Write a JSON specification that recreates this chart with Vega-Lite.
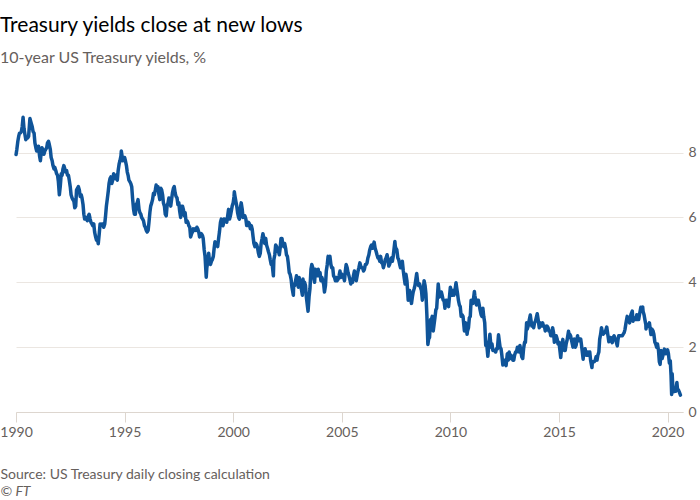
{
"$schema": "https://vega.github.io/schema/vega-lite/v6.json",
"width": 667, "height": 308,
"autosize": {"type": "none"},
"padding": {"left": 16, "top": 104, "right": 17, "bottom": 88},
"background": "white",
"title": {"text": "Treasury yields close at new lows", "subtitle": "10-year US Treasury yields, %", "anchor": "start", "frame": "group", "dx": -16, "offset": 38, "font": "Lato", "fontSize": 21, "fontWeight": "normal", "color": "#000000", "subtitleFont": "Lato", "subtitleFontSize": 16, "subtitleColor": "#66605c", "subtitlePadding": 14},
"data": {"values": [
{"d":"1990-01-02","v":7.94},{"d":"1990-01-15","v":8.1},{"d":"1990-02-01","v":8.35},{"d":"1990-02-15","v":8.5},{"d":"1990-03-01","v":8.6},{"d":"1990-03-15","v":8.6},{"d":"1990-04-01","v":8.65},{"d":"1990-04-15","v":8.8},{"d":"1990-04-30","v":9.09},{"d":"1990-05-15","v":8.75},{"d":"1990-06-01","v":8.55},{"d":"1990-06-15","v":8.4},{"d":"1990-07-01","v":8.45},{"d":"1990-07-15","v":8.45},{"d":"1990-08-01","v":8.5},{"d":"1990-08-15","v":8.85},{"d":"1990-08-23","v":9.05},{"d":"1990-09-15","v":8.9},{"d":"1990-10-01","v":8.8},{"d":"1990-10-15","v":8.65},{"d":"1990-11-01","v":8.6},{"d":"1990-11-15","v":8.3},{"d":"1990-12-01","v":8.15},{"d":"1990-12-15","v":8.05},
{"d":"1991-01-01","v":8.05},{"d":"1991-01-15","v":8.2},{"d":"1991-02-01","v":7.9},{"d":"1991-02-15","v":7.75},{"d":"1991-03-01","v":8.0},{"d":"1991-03-15","v":8.15},{"d":"1991-04-01","v":8.05},{"d":"1991-04-15","v":7.95},{"d":"1991-05-01","v":8.05},{"d":"1991-05-15","v":8.1},{"d":"1991-06-01","v":8.15},{"d":"1991-06-15","v":8.3},{"d":"1991-07-01","v":8.35},{"d":"1991-07-15","v":8.25},{"d":"1991-08-01","v":8.1},{"d":"1991-08-15","v":7.85},{"d":"1991-09-01","v":7.75},{"d":"1991-09-15","v":7.6},{"d":"1991-10-01","v":7.5},{"d":"1991-10-15","v":7.55},{"d":"1991-11-01","v":7.45},{"d":"1991-11-15","v":7.35},{"d":"1991-12-01","v":7.3},{"d":"1991-12-15","v":7.1},{"d":"1991-12-31","v":6.7},
{"d":"1992-01-15","v":6.95},{"d":"1992-02-01","v":7.35},{"d":"1992-02-15","v":7.3},{"d":"1992-03-01","v":7.5},{"d":"1992-03-15","v":7.6},{"d":"1992-04-01","v":7.5},{"d":"1992-04-15","v":7.4},{"d":"1992-05-01","v":7.45},{"d":"1992-05-15","v":7.3},{"d":"1992-06-01","v":7.3},{"d":"1992-06-15","v":7.15},{"d":"1992-07-01","v":6.95},{"d":"1992-07-15","v":6.7},{"d":"1992-08-01","v":6.6},{"d":"1992-08-15","v":6.55},{"d":"1992-09-01","v":6.5},{"d":"1992-09-15","v":6.3},{"d":"1992-10-01","v":6.35},{"d":"1992-10-15","v":6.85},{"d":"1992-11-01","v":6.9},{"d":"1992-11-15","v":6.95},{"d":"1992-12-01","v":6.85},{"d":"1992-12-15","v":6.65},
{"d":"1993-01-01","v":6.7},{"d":"1993-01-15","v":6.6},{"d":"1993-02-01","v":6.4},{"d":"1993-02-15","v":6.1},{"d":"1993-03-01","v":5.95},{"d":"1993-03-15","v":6.0},{"d":"1993-04-01","v":5.95},{"d":"1993-04-15","v":5.9},{"d":"1993-05-01","v":6.05},{"d":"1993-05-15","v":6.1},{"d":"1993-06-01","v":5.95},{"d":"1993-06-15","v":5.85},{"d":"1993-07-01","v":5.8},{"d":"1993-07-15","v":5.75},{"d":"1993-08-01","v":5.8},{"d":"1993-08-15","v":5.55},{"d":"1993-09-01","v":5.4},{"d":"1993-09-15","v":5.3},{"d":"1993-10-01","v":5.35},{"d":"1993-10-15","v":5.19},{"d":"1993-11-01","v":5.5},{"d":"1993-11-15","v":5.8},{"d":"1993-12-01","v":5.75},{"d":"1993-12-15","v":5.8},
{"d":"1994-01-01","v":5.8},{"d":"1994-01-15","v":5.7},{"d":"1994-02-01","v":5.8},{"d":"1994-02-15","v":6.05},{"d":"1994-03-01","v":6.35},{"d":"1994-03-15","v":6.55},{"d":"1994-04-01","v":6.8},{"d":"1994-04-15","v":7.05},{"d":"1994-05-01","v":7.2},{"d":"1994-05-15","v":7.25},{"d":"1994-06-01","v":7.05},{"d":"1994-06-15","v":7.15},{"d":"1994-07-01","v":7.35},{"d":"1994-07-15","v":7.25},{"d":"1994-08-01","v":7.2},{"d":"1994-08-15","v":7.3},{"d":"1994-09-01","v":7.15},{"d":"1994-09-15","v":7.45},{"d":"1994-10-01","v":7.65},{"d":"1994-10-15","v":7.75},{"d":"1994-11-01","v":7.9},{"d":"1994-11-07","v":8.05},{"d":"1994-11-15","v":7.95},{"d":"1994-12-01","v":7.75},{"d":"1994-12-15","v":7.85},
{"d":"1995-01-01","v":7.85},{"d":"1995-01-15","v":7.75},{"d":"1995-02-01","v":7.6},{"d":"1995-02-15","v":7.4},{"d":"1995-03-01","v":7.3},{"d":"1995-03-15","v":7.15},{"d":"1995-04-01","v":7.1},{"d":"1995-04-15","v":7.05},{"d":"1995-05-01","v":6.95},{"d":"1995-05-15","v":6.6},{"d":"1995-06-01","v":6.25},{"d":"1995-06-15","v":6.1},{"d":"1995-07-01","v":6.1},{"d":"1995-07-15","v":6.4},{"d":"1995-08-01","v":6.45},{"d":"1995-08-15","v":6.55},{"d":"1995-09-01","v":6.25},{"d":"1995-09-15","v":6.15},{"d":"1995-10-01","v":6.1},{"d":"1995-10-15","v":6.0},{"d":"1995-11-01","v":5.95},{"d":"1995-11-15","v":5.9},{"d":"1995-12-01","v":5.75},{"d":"1995-12-15","v":5.7},
{"d":"1996-01-01","v":5.6},{"d":"1996-01-15","v":5.55},{"d":"1996-02-01","v":5.6},{"d":"1996-02-15","v":5.85},{"d":"1996-03-01","v":6.15},{"d":"1996-03-15","v":6.35},{"d":"1996-04-01","v":6.45},{"d":"1996-04-15","v":6.55},{"d":"1996-05-01","v":6.75},{"d":"1996-05-15","v":6.7},{"d":"1996-06-01","v":6.85},{"d":"1996-06-15","v":7.0},{"d":"1996-07-01","v":6.85},{"d":"1996-07-15","v":6.95},{"d":"1996-08-01","v":6.7},{"d":"1996-08-15","v":6.55},{"d":"1996-09-01","v":6.9},{"d":"1996-09-15","v":6.85},{"d":"1996-10-01","v":6.7},{"d":"1996-10-15","v":6.45},{"d":"1996-11-01","v":6.35},{"d":"1996-11-15","v":6.1},{"d":"1996-12-01","v":6.05},{"d":"1996-12-15","v":6.35},
{"d":"1997-01-01","v":6.45},{"d":"1997-01-15","v":6.6},{"d":"1997-02-01","v":6.55},{"d":"1997-02-15","v":6.35},{"d":"1997-03-01","v":6.55},{"d":"1997-03-15","v":6.75},{"d":"1997-04-01","v":6.9},{"d":"1997-04-15","v":6.95},{"d":"1997-05-01","v":6.75},{"d":"1997-05-15","v":6.65},{"d":"1997-06-01","v":6.6},{"d":"1997-06-15","v":6.4},{"d":"1997-07-01","v":6.45},{"d":"1997-07-15","v":6.2},{"d":"1997-08-01","v":6.0},{"d":"1997-08-15","v":6.35},{"d":"1997-09-01","v":6.35},{"d":"1997-09-15","v":6.25},{"d":"1997-10-01","v":6.05},{"d":"1997-10-15","v":6.15},{"d":"1997-11-01","v":5.85},{"d":"1997-11-15","v":5.9},{"d":"1997-12-01","v":5.85},{"d":"1997-12-15","v":5.75},
{"d":"1998-01-01","v":5.7},{"d":"1998-01-15","v":5.4},{"d":"1998-02-01","v":5.5},{"d":"1998-02-15","v":5.55},{"d":"1998-03-01","v":5.65},{"d":"1998-03-15","v":5.6},{"d":"1998-04-01","v":5.65},{"d":"1998-04-15","v":5.6},{"d":"1998-05-01","v":5.7},{"d":"1998-05-15","v":5.65},{"d":"1998-06-01","v":5.55},{"d":"1998-06-15","v":5.4},{"d":"1998-07-01","v":5.45},{"d":"1998-07-15","v":5.5},{"d":"1998-08-01","v":5.45},{"d":"1998-08-15","v":5.35},{"d":"1998-09-01","v":5.0},{"d":"1998-09-15","v":4.8},{"d":"1998-10-05","v":4.16},{"d":"1998-10-15","v":4.45},{"d":"1998-11-01","v":4.65},{"d":"1998-11-15","v":4.9},{"d":"1998-12-01","v":4.6},{"d":"1998-12-15","v":4.55},
{"d":"1999-01-01","v":4.65},{"d":"1999-01-15","v":4.7},{"d":"1999-02-01","v":4.8},{"d":"1999-02-15","v":5.05},{"d":"1999-03-01","v":5.25},{"d":"1999-03-15","v":5.15},{"d":"1999-04-01","v":5.2},{"d":"1999-04-15","v":5.1},{"d":"1999-05-01","v":5.35},{"d":"1999-05-15","v":5.55},{"d":"1999-06-01","v":5.85},{"d":"1999-06-15","v":5.95},{"d":"1999-07-01","v":5.8},{"d":"1999-07-15","v":5.75},{"d":"1999-08-01","v":5.95},{"d":"1999-08-15","v":5.9},{"d":"1999-09-01","v":5.95},{"d":"1999-09-15","v":5.85},{"d":"1999-10-01","v":6.05},{"d":"1999-10-15","v":6.25},{"d":"1999-11-01","v":5.95},{"d":"1999-11-15","v":6.05},{"d":"1999-12-01","v":6.2},{"d":"1999-12-15","v":6.35},
{"d":"2000-01-01","v":6.45},{"d":"2000-01-15","v":6.65},{"d":"2000-01-20","v":6.79},{"d":"2000-02-01","v":6.65},{"d":"2000-02-15","v":6.5},{"d":"2000-03-01","v":6.35},{"d":"2000-03-15","v":6.15},{"d":"2000-04-01","v":6.0},{"d":"2000-04-15","v":5.95},{"d":"2000-05-01","v":6.3},{"d":"2000-05-15","v":6.45},{"d":"2000-06-01","v":6.25},{"d":"2000-06-15","v":6.0},{"d":"2000-07-01","v":6.05},{"d":"2000-07-15","v":6.05},{"d":"2000-08-01","v":5.95},{"d":"2000-08-15","v":5.75},{"d":"2000-09-01","v":5.75},{"d":"2000-09-15","v":5.85},{"d":"2000-10-01","v":5.8},{"d":"2000-10-15","v":5.65},{"d":"2000-11-01","v":5.75},{"d":"2000-11-15","v":5.65},{"d":"2000-12-01","v":5.4},{"d":"2000-12-15","v":5.2},
{"d":"2001-01-01","v":5.1},{"d":"2001-01-15","v":5.2},{"d":"2001-02-01","v":5.15},{"d":"2001-02-15","v":5.05},{"d":"2001-03-01","v":4.9},{"d":"2001-03-15","v":4.8},{"d":"2001-04-01","v":4.9},{"d":"2001-04-15","v":5.2},{"d":"2001-05-01","v":5.35},{"d":"2001-05-15","v":5.5},{"d":"2001-06-01","v":5.35},{"d":"2001-06-15","v":5.2},{"d":"2001-07-01","v":5.35},{"d":"2001-07-15","v":5.15},{"d":"2001-08-01","v":5.05},{"d":"2001-08-15","v":4.95},{"d":"2001-09-01","v":4.85},{"d":"2001-09-15","v":4.7},{"d":"2001-10-01","v":4.55},{"d":"2001-10-15","v":4.6},{"d":"2001-11-07","v":4.2},{"d":"2001-11-15","v":4.7},{"d":"2001-12-01","v":4.85},{"d":"2001-12-15","v":5.15},
{"d":"2002-01-01","v":5.1},{"d":"2002-01-15","v":4.95},{"d":"2002-02-01","v":4.95},{"d":"2002-02-15","v":4.85},{"d":"2002-03-01","v":5.05},{"d":"2002-03-15","v":5.35},{"d":"2002-04-01","v":5.35},{"d":"2002-04-15","v":5.15},{"d":"2002-05-01","v":5.1},{"d":"2002-05-15","v":5.2},{"d":"2002-06-01","v":5.05},{"d":"2002-06-15","v":4.85},{"d":"2002-07-01","v":4.8},{"d":"2002-07-15","v":4.6},{"d":"2002-08-01","v":4.3},{"d":"2002-08-15","v":4.25},{"d":"2002-09-01","v":4.1},{"d":"2002-09-15","v":3.85},{"d":"2002-10-09","v":3.6},{"d":"2002-10-15","v":3.95},{"d":"2002-11-01","v":3.9},{"d":"2002-11-15","v":4.05},{"d":"2002-12-01","v":4.2},{"d":"2002-12-15","v":4.05},
{"d":"2003-01-01","v":3.85},{"d":"2003-01-15","v":4.15},{"d":"2003-02-01","v":3.95},{"d":"2003-02-15","v":3.85},{"d":"2003-03-10","v":3.6},{"d":"2003-03-20","v":4.1},{"d":"2003-04-01","v":3.9},{"d":"2003-04-15","v":4.0},{"d":"2003-05-01","v":3.9},{"d":"2003-05-15","v":3.55},{"d":"2003-06-13","v":3.11},{"d":"2003-06-30","v":3.55},{"d":"2003-07-15","v":3.8},{"d":"2003-08-01","v":4.4},{"d":"2003-08-15","v":4.55},{"d":"2003-09-01","v":4.45},{"d":"2003-09-15","v":4.15},{"d":"2003-10-01","v":4.0},{"d":"2003-10-15","v":4.4},{"d":"2003-11-01","v":4.35},{"d":"2003-11-15","v":4.2},{"d":"2003-12-01","v":4.4},{"d":"2003-12-15","v":4.2},
{"d":"2004-01-01","v":4.3},{"d":"2004-01-15","v":4.05},{"d":"2004-02-01","v":4.15},{"d":"2004-02-15","v":4.05},{"d":"2004-03-01","v":3.95},{"d":"2004-03-15","v":3.7},{"d":"2004-04-01","v":3.9},{"d":"2004-04-15","v":4.35},{"d":"2004-05-01","v":4.55},{"d":"2004-05-15","v":4.8},{"d":"2004-06-01","v":4.75},{"d":"2004-06-15","v":4.8},{"d":"2004-07-01","v":4.55},{"d":"2004-07-15","v":4.45},{"d":"2004-08-01","v":4.45},{"d":"2004-08-15","v":4.2},{"d":"2004-09-01","v":4.15},{"d":"2004-09-15","v":4.05},{"d":"2004-10-01","v":4.15},{"d":"2004-10-15","v":4.05},{"d":"2004-11-01","v":4.1},{"d":"2004-11-15","v":4.2},{"d":"2004-12-01","v":4.35},{"d":"2004-12-15","v":4.15},
{"d":"2005-01-01","v":4.25},{"d":"2005-01-15","v":4.2},{"d":"2005-02-01","v":4.15},{"d":"2005-02-15","v":4.05},{"d":"2005-03-01","v":4.35},{"d":"2005-03-15","v":4.55},{"d":"2005-04-01","v":4.45},{"d":"2005-04-15","v":4.3},{"d":"2005-05-01","v":4.2},{"d":"2005-05-15","v":4.1},{"d":"2005-06-01","v":3.95},{"d":"2005-06-15","v":4.1},{"d":"2005-07-01","v":4.0},{"d":"2005-07-15","v":4.2},{"d":"2005-08-01","v":4.35},{"d":"2005-08-15","v":4.2},{"d":"2005-09-01","v":4.05},{"d":"2005-09-15","v":4.2},{"d":"2005-10-01","v":4.35},{"d":"2005-10-15","v":4.45},{"d":"2005-11-01","v":4.6},{"d":"2005-11-15","v":4.5},{"d":"2005-12-01","v":4.45},{"d":"2005-12-15","v":4.45},
{"d":"2006-01-01","v":4.35},{"d":"2006-01-15","v":4.4},{"d":"2006-02-01","v":4.55},{"d":"2006-02-15","v":4.55},{"d":"2006-03-01","v":4.6},{"d":"2006-03-15","v":4.75},{"d":"2006-04-01","v":4.85},{"d":"2006-04-15","v":5.0},{"d":"2006-05-01","v":5.1},{"d":"2006-05-15","v":5.15},{"d":"2006-06-01","v":5.05},{"d":"2006-06-28","v":5.24},{"d":"2006-07-15","v":5.05},{"d":"2006-08-01","v":4.95},{"d":"2006-08-15","v":4.85},{"d":"2006-09-01","v":4.75},{"d":"2006-09-15","v":4.75},{"d":"2006-10-01","v":4.65},{"d":"2006-10-15","v":4.8},{"d":"2006-11-01","v":4.6},{"d":"2006-11-15","v":4.6},{"d":"2006-12-01","v":4.45},{"d":"2006-12-15","v":4.55},
{"d":"2007-01-01","v":4.7},{"d":"2007-01-15","v":4.75},{"d":"2007-02-01","v":4.85},{"d":"2007-02-15","v":4.7},{"d":"2007-03-01","v":4.5},{"d":"2007-03-15","v":4.55},{"d":"2007-04-01","v":4.65},{"d":"2007-04-15","v":4.75},{"d":"2007-05-01","v":4.65},{"d":"2007-05-15","v":4.8},{"d":"2007-06-12","v":5.26},{"d":"2007-06-20","v":5.1},{"d":"2007-07-01","v":5.05},{"d":"2007-07-15","v":5.0},{"d":"2007-08-01","v":4.75},{"d":"2007-08-15","v":4.7},{"d":"2007-09-01","v":4.55},{"d":"2007-09-15","v":4.45},{"d":"2007-10-01","v":4.6},{"d":"2007-10-15","v":4.65},{"d":"2007-11-01","v":4.35},{"d":"2007-11-15","v":4.15},{"d":"2007-12-01","v":3.95},{"d":"2007-12-15","v":4.25},
{"d":"2008-01-01","v":4.05},{"d":"2008-01-22","v":3.45},{"d":"2008-02-01","v":3.65},{"d":"2008-02-15","v":3.75},{"d":"2008-03-01","v":3.55},{"d":"2008-03-17","v":3.35},{"d":"2008-04-01","v":3.55},{"d":"2008-04-15","v":3.7},{"d":"2008-05-01","v":3.8},{"d":"2008-05-15","v":3.9},{"d":"2008-06-13","v":4.27},{"d":"2008-06-30","v":4.0},{"d":"2008-07-15","v":3.9},{"d":"2008-08-01","v":3.95},{"d":"2008-08-15","v":3.85},{"d":"2008-09-01","v":3.75},{"d":"2008-09-16","v":3.45},{"d":"2008-10-01","v":3.7},{"d":"2008-10-15","v":4.05},{"d":"2008-11-01","v":3.9},{"d":"2008-11-15","v":3.65},{"d":"2008-12-01","v":3.0},{"d":"2008-12-18","v":2.08},{"d":"2008-12-31","v":2.25},
{"d":"2009-01-15","v":2.3},{"d":"2009-02-01","v":2.85},{"d":"2009-02-15","v":2.85},{"d":"2009-03-01","v":2.95},{"d":"2009-03-18","v":2.5},{"d":"2009-04-01","v":2.7},{"d":"2009-04-15","v":2.9},{"d":"2009-05-01","v":3.15},{"d":"2009-05-15","v":3.2},{"d":"2009-06-10","v":3.95},{"d":"2009-06-30","v":3.55},{"d":"2009-07-15","v":3.6},{"d":"2009-08-01","v":3.7},{"d":"2009-08-15","v":3.6},{"d":"2009-09-01","v":3.45},{"d":"2009-09-15","v":3.45},{"d":"2009-10-01","v":3.2},{"d":"2009-10-15","v":3.45},{"d":"2009-11-01","v":3.45},{"d":"2009-11-15","v":3.35},{"d":"2009-12-01","v":3.25},{"d":"2009-12-31","v":3.85},
{"d":"2010-01-15","v":3.7},{"d":"2010-02-01","v":3.6},{"d":"2010-02-15","v":3.75},{"d":"2010-03-01","v":3.6},{"d":"2010-03-15","v":3.7},{"d":"2010-04-05","v":3.99},{"d":"2010-04-15","v":3.85},{"d":"2010-05-01","v":3.65},{"d":"2010-05-15","v":3.45},{"d":"2010-06-01","v":3.3},{"d":"2010-06-15","v":3.25},{"d":"2010-07-01","v":2.95},{"d":"2010-07-15","v":3.0},{"d":"2010-08-01","v":2.95},{"d":"2010-08-24","v":2.5},{"d":"2010-09-01","v":2.65},{"d":"2010-09-15","v":2.75},{"d":"2010-10-08","v":2.4},{"d":"2010-10-15","v":2.5},{"d":"2010-11-01","v":2.6},{"d":"2010-11-15","v":2.9},{"d":"2010-12-01","v":2.95},{"d":"2010-12-15","v":3.45},
{"d":"2011-01-01","v":3.35},{"d":"2011-01-15","v":3.35},{"d":"2011-02-08","v":3.72},{"d":"2011-02-15","v":3.6},{"d":"2011-03-01","v":3.45},{"d":"2011-03-15","v":3.3},{"d":"2011-04-01","v":3.45},{"d":"2011-04-15","v":3.45},{"d":"2011-05-01","v":3.3},{"d":"2011-05-15","v":3.15},{"d":"2011-06-01","v":3.0},{"d":"2011-06-15","v":2.95},{"d":"2011-07-01","v":3.2},{"d":"2011-07-15","v":2.95},{"d":"2011-08-01","v":2.75},{"d":"2011-08-18","v":2.05},{"d":"2011-09-01","v":2.15},{"d":"2011-09-22","v":1.72},{"d":"2011-10-01","v":1.9},{"d":"2011-10-27","v":2.4},{"d":"2011-11-15","v":2.0},{"d":"2011-12-01","v":2.1},{"d":"2011-12-15","v":1.9},
{"d":"2012-01-01","v":1.9},{"d":"2012-01-15","v":1.9},{"d":"2012-02-01","v":1.85},{"d":"2012-02-15","v":1.95},{"d":"2012-03-01","v":1.95},{"d":"2012-03-20","v":2.38},{"d":"2012-04-01","v":2.2},{"d":"2012-04-15","v":2.0},{"d":"2012-05-01","v":1.95},{"d":"2012-05-15","v":1.75},{"d":"2012-06-01","v":1.45},{"d":"2012-06-15","v":1.6},{"d":"2012-07-01","v":1.6},{"d":"2012-07-25","v":1.43},{"d":"2012-08-15","v":1.8},{"d":"2012-09-01","v":1.6},{"d":"2012-09-15","v":1.85},{"d":"2012-10-01","v":1.65},{"d":"2012-10-15","v":1.75},{"d":"2012-11-01","v":1.7},{"d":"2012-11-15","v":1.6},{"d":"2012-12-01","v":1.6},{"d":"2012-12-15","v":1.75},
{"d":"2013-01-01","v":1.85},{"d":"2013-01-15","v":1.85},{"d":"2013-02-01","v":2.0},{"d":"2013-02-15","v":2.0},{"d":"2013-03-01","v":1.85},{"d":"2013-03-15","v":2.05},{"d":"2013-04-01","v":1.85},{"d":"2013-04-15","v":1.7},{"d":"2013-05-01","v":1.65},{"d":"2013-05-15","v":1.95},{"d":"2013-06-01","v":2.15},{"d":"2013-06-15","v":2.15},{"d":"2013-07-05","v":2.75},{"d":"2013-07-15","v":2.55},{"d":"2013-08-01","v":2.65},{"d":"2013-08-15","v":2.8},{"d":"2013-09-05","v":2.99},{"d":"2013-09-15","v":2.85},{"d":"2013-10-01","v":2.65},{"d":"2013-10-15","v":2.7},{"d":"2013-11-01","v":2.6},{"d":"2013-11-15","v":2.75},{"d":"2013-12-01","v":2.8},{"d":"2013-12-31","v":3.03},
{"d":"2014-01-15","v":2.85},{"d":"2014-02-03","v":2.6},{"d":"2014-02-15","v":2.75},{"d":"2014-03-01","v":2.65},{"d":"2014-03-15","v":2.65},{"d":"2014-04-01","v":2.75},{"d":"2014-04-15","v":2.65},{"d":"2014-05-01","v":2.65},{"d":"2014-05-15","v":2.5},{"d":"2014-06-01","v":2.55},{"d":"2014-06-15","v":2.65},{"d":"2014-07-01","v":2.6},{"d":"2014-07-15","v":2.5},{"d":"2014-08-01","v":2.5},{"d":"2014-08-15","v":2.35},{"d":"2014-09-01","v":2.35},{"d":"2014-09-15","v":2.6},{"d":"2014-10-01","v":2.45},{"d":"2014-10-15","v":2.15},{"d":"2014-11-01","v":2.35},{"d":"2014-11-15","v":2.35},{"d":"2014-12-01","v":2.25},{"d":"2014-12-15","v":2.1},
{"d":"2015-01-01","v":2.15},{"d":"2015-01-30","v":1.68},{"d":"2015-02-15","v":2.0},{"d":"2015-03-06","v":2.24},{"d":"2015-03-15","v":2.1},{"d":"2015-04-01","v":1.9},{"d":"2015-04-15","v":1.9},{"d":"2015-05-01","v":2.1},{"d":"2015-05-15","v":2.2},{"d":"2015-06-10","v":2.49},{"d":"2015-06-20","v":2.3},{"d":"2015-07-01","v":2.4},{"d":"2015-07-15","v":2.35},{"d":"2015-08-01","v":2.2},{"d":"2015-08-24","v":2.0},{"d":"2015-09-01","v":2.2},{"d":"2015-09-15","v":2.25},{"d":"2015-10-01","v":2.0},{"d":"2015-10-15","v":2.05},{"d":"2015-11-09","v":2.35},{"d":"2015-11-15","v":2.25},{"d":"2015-12-01","v":2.2},{"d":"2015-12-15","v":2.25},
{"d":"2016-01-01","v":2.25},{"d":"2016-01-15","v":2.05},{"d":"2016-02-11","v":1.63},{"d":"2016-02-15","v":1.75},{"d":"2016-03-01","v":1.85},{"d":"2016-03-15","v":1.95},{"d":"2016-04-01","v":1.75},{"d":"2016-04-15","v":1.75},{"d":"2016-05-01","v":1.85},{"d":"2016-05-15","v":1.75},{"d":"2016-06-01","v":1.85},{"d":"2016-06-15","v":1.6},{"d":"2016-07-08","v":1.37},{"d":"2016-07-15","v":1.55},{"d":"2016-08-01","v":1.55},{"d":"2016-08-15","v":1.55},{"d":"2016-09-01","v":1.6},{"d":"2016-09-15","v":1.7},{"d":"2016-10-01","v":1.6},{"d":"2016-10-15","v":1.75},{"d":"2016-11-01","v":1.85},{"d":"2016-11-15","v":2.25},{"d":"2016-12-01","v":2.4},{"d":"2016-12-15","v":2.6},
{"d":"2017-01-01","v":2.45},{"d":"2017-01-15","v":2.4},{"d":"2017-02-01","v":2.45},{"d":"2017-02-15","v":2.45},{"d":"2017-03-14","v":2.62},{"d":"2017-03-31","v":2.4},{"d":"2017-04-18","v":2.17},{"d":"2017-05-01","v":2.3},{"d":"2017-05-15","v":2.3},{"d":"2017-06-14","v":2.14},{"d":"2017-06-30","v":2.3},{"d":"2017-07-15","v":2.35},{"d":"2017-08-01","v":2.25},{"d":"2017-08-15","v":2.2},{"d":"2017-09-07","v":2.04},{"d":"2017-09-20","v":2.25},{"d":"2017-10-01","v":2.35},{"d":"2017-10-15","v":2.35},{"d":"2017-11-01","v":2.35},{"d":"2017-11-15","v":2.35},{"d":"2017-12-01","v":2.35},{"d":"2017-12-15","v":2.4},
{"d":"2018-01-01","v":2.45},{"d":"2018-01-15","v":2.55},{"d":"2018-02-01","v":2.75},{"d":"2018-02-21","v":2.95},{"d":"2018-03-01","v":2.8},{"d":"2018-03-15","v":2.85},{"d":"2018-04-01","v":2.75},{"d":"2018-04-24","v":3.0},{"d":"2018-05-17","v":3.11},{"d":"2018-05-29","v":2.8},{"d":"2018-06-15","v":2.9},{"d":"2018-07-01","v":2.85},{"d":"2018-07-15","v":2.85},{"d":"2018-08-01","v":3.0},{"d":"2018-08-15","v":2.85},{"d":"2018-09-01","v":2.85},{"d":"2018-09-15","v":3.0},{"d":"2018-10-08","v":3.23},{"d":"2018-10-15","v":3.15},{"d":"2018-11-08","v":3.24},{"d":"2018-11-15","v":3.1},{"d":"2018-12-01","v":3.0},{"d":"2018-12-15","v":2.85},{"d":"2018-12-31","v":2.69},
{"d":"2019-01-03","v":2.56},{"d":"2019-01-15","v":2.7},{"d":"2019-02-01","v":2.7},{"d":"2019-02-15","v":2.65},{"d":"2019-03-01","v":2.75},{"d":"2019-03-27","v":2.39},{"d":"2019-04-15","v":2.55},{"d":"2019-05-01","v":2.5},{"d":"2019-05-15","v":2.4},{"d":"2019-06-01","v":2.15},{"d":"2019-06-15","v":2.1},{"d":"2019-07-01","v":2.0},{"d":"2019-07-15","v":2.1},{"d":"2019-08-01","v":1.9},{"d":"2019-08-15","v":1.55},{"d":"2019-08-28","v":1.47},{"d":"2019-09-13","v":1.9},{"d":"2019-10-01","v":1.65},{"d":"2019-10-15","v":1.75},{"d":"2019-11-08","v":1.94},{"d":"2019-11-15","v":1.85},{"d":"2019-12-01","v":1.8},{"d":"2019-12-15","v":1.85},{"d":"2019-12-31","v":1.92},
{"d":"2020-01-15","v":1.8},{"d":"2020-01-31","v":1.51},{"d":"2020-02-15","v":1.58},{"d":"2020-02-28","v":1.13},{"d":"2020-03-09","v":0.54},{"d":"2020-03-18","v":1.18},{"d":"2020-04-01","v":0.62},{"d":"2020-04-15","v":0.63},{"d":"2020-05-01","v":0.64},{"d":"2020-05-15","v":0.64},{"d":"2020-06-05","v":0.91},{"d":"2020-06-15","v":0.71},{"d":"2020-07-01","v":0.68},{"d":"2020-07-15","v":0.62},{"d":"2020-08-04","v":0.52}
]},
"mark": {"type": "line", "color": "#0f5499", "strokeWidth": 3.5, "strokeJoin": "round", "strokeCap": "round"},
"encoding": {
 "x": {"field": "d", "type": "temporal",
  "scale": {"domain": [{"year": 1990, "month": 1, "date": 1}, {"year": 2020, "month": 9, "date": 16}]},
  "axis": {"values": [{"year": 1990, "month": 1, "date": 1}, {"year": 1995, "month": 1, "date": 1}, {"year": 2000, "month": 1, "date": 1}, {"year": 2005, "month": 1, "date": 1}, {"year": 2010, "month": 1, "date": 1}, {"year": 2015, "month": 1, "date": 1}, {"year": 2020, "month": 1, "date": 1}],
   "format": "%Y", "grid": false, "domainColor": "#ddd6cf", "tickColor": "#ddd6cf", "tickSize": 10, "labelFont": "Lato", "labelFontSize": 14, "labelColor": "#66605c", "labelPadding": 3, "labelFlush": false, "labelOverlap": false,
   "title": "Source: US Treasury daily closing calculation", "titleX": -16, "titleY": 62, "titleAlign": "left", "titleBaseline": "middle", "titleFont": "Lato", "titleFontSize": 14, "titleFontWeight": "normal", "titleColor": "#66605c"}},
 "y": {"field": "v", "type": "quantitative",
  "scale": {"domain": [0, 9.5], "nice": false},
  "axis": {"orient": "right", "values": [0, 2, 4, 6, 8], "grid": true, "gridColor": "#ebe6e1", "domain": false, "ticks": false, "labelFont": "Lato", "labelFontSize": 14, "labelColor": "#66605c", "labelPadding": 5,
   "title": "© FT", "titleAngle": 0, "titleX": -683, "titleY": 387, "titleAlign": "left", "titleBaseline": "middle", "titleFont": "Lato", "titleFontSize": 14, "titleFontWeight": "normal", "titleFontStyle": "italic", "titleColor": "#66605c"}}
},
"config": {"view": {"stroke": null}}
}
